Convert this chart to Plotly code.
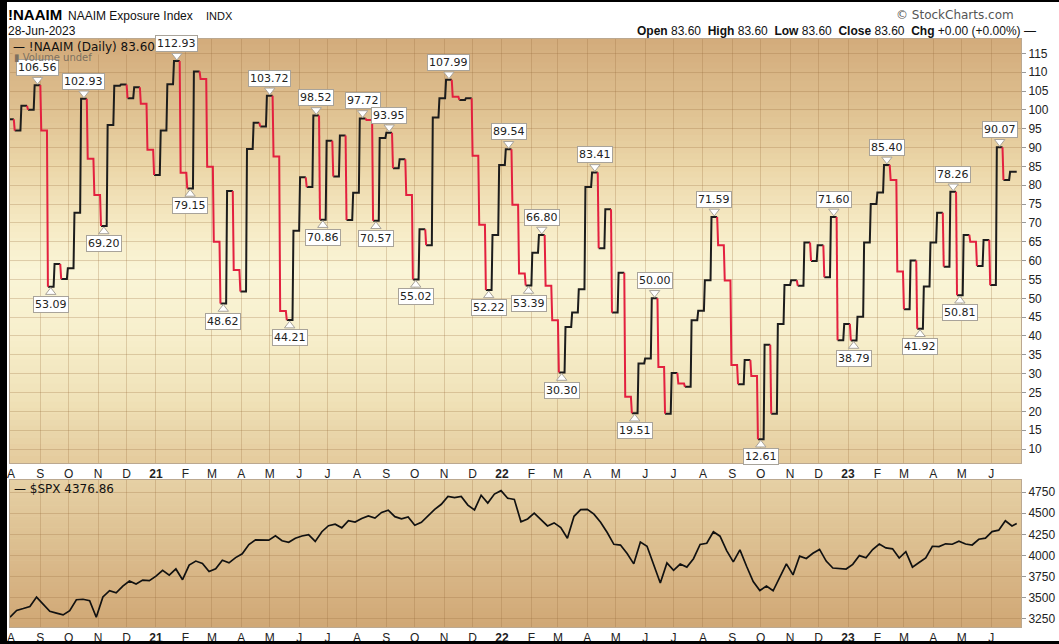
import plotly.graph_objects as go
import pandas as pd

# ---------------- data ----------------
naaim_start = "2020-07-29"
naaim_values = [
    97.5, 94.5, 101.1, 100.0, 106.56, 94.5, 53.09, 59.1, 55.1, 58.0, 72.7, 102.93,
    87.0, 77.4, 69.20, 96.0, 106.4, 106.7, 103.1, 106.0, 101.6, 89.4, 82.7,
    # 2021
    94.5, 106.8, 112.93, 83.3, 79.15, 110.2, 108.2, 84.9, 65.0, 48.62, 78.5, 57.5,
    51.8, 89.6, 96.6, 95.6, 103.72, 87.6, 46.6, 44.21, 67.9, 82.1, 79.5, 98.52,
    70.86, 91.8, 82.3, 93.2, 70.8, 78.0, 97.72, 97.3, 70.57, 92.5, 93.95, 84.5,
    86.9, 77.4, 55.02, 68.3, 64.1, 98.0, 103.1, 107.99, 103.5, 102.6, 103.1, 87.8,
    69.5, 52.22, 66.8, 85.4,
    # 2022
    89.54, 74.8, 56.6, 53.39, 62.1, 66.80, 53.3, 44.2, 30.30, 42.4, 46.2, 52.4,
    79.5, 83.41, 63.3, 73.6, 46.2, 56.8, 23.9, 19.51, 32.7, 34.0, 50.00, 31.8,
    19.4, 30.2, 27.4, 26.5, 44.2, 46.7, 54.8, 71.59, 64.1, 54.7, 32.3, 27.2,
    33.6, 29.4, 12.61, 37.7, 19.4, 43.2, 53.5, 54.8, 53.3, 64.8, 59.9, 64.1,
    55.6, 71.60, 38.9, 43.2,
    # 2023
    38.79, 45.1, 64.8, 75.0, 78.1, 85.40, 81.4, 57.1, 47.1, 60.0, 41.92, 53.1,
    64.8, 72.7, 58.4, 78.26, 50.81, 66.8, 65.0, 58.6, 65.5, 53.5, 90.07, 81.4,
    83.60, 83.60,
]
label_values = [106.56, 53.09, 102.93, 69.20, 112.93, 79.15, 48.62, 103.72, 44.21,
                98.52, 70.86, 97.72, 70.57, 93.95, 55.02, 107.99, 52.22, 89.54,
                53.39, 66.80, 30.30, 83.41, 19.51, 50.00, 71.59, 12.61, 71.60,
                38.79, 85.40, 41.92, 78.26, 50.81, 90.07]

spx_values = [
    3271, 3351, 3373, 3397, 3508, 3427, 3341, 3319, 3298, 3348, 3477, 3483, 3465,
    3270, 3510, 3585, 3558, 3638, 3699, 3663, 3709, 3703,
    # 2021
    3756, 3825, 3768, 3841, 3714, 3887, 3934, 3907, 3811, 3842, 3943, 3913, 3975,
    4020, 4129, 4185, 4180, 4181, 4233, 4174, 4156, 4204, 4230, 4247, 4166, 4281,
    4352, 4370, 4327, 4412, 4395, 4437, 4468, 4442, 4509, 4535, 4459, 4433, 4455,
    4357, 4391, 4471, 4545, 4605, 4697, 4683, 4698, 4595, 4538, 4712, 4620, 4726,
    4766,
    # 2022
    4677, 4663, 4398, 4432, 4501, 4419, 4349, 4385, 4329, 4204, 4463, 4543, 4546,
    4488, 4393, 4272, 4132, 4123, 4024, 3901, 4158, 4109, 3901, 3675, 3912, 3825,
    3899, 3863, 3962, 4130, 4145, 4280, 4228, 4058, 3924, 4067, 3873, 3693, 3586,
    3640, 3583, 3752, 3901, 3771, 3993, 3965, 4026, 4072, 3934, 3852, 3845, 3840,
    # 2023
    3895, 3999, 3973, 4071, 4136, 4090, 4079, 3970, 4046, 3862, 3917, 3971, 4109,
    4105, 4138, 4133, 4169, 4136, 4124, 4192, 4205, 4282, 4299, 4410, 4348, 4376.86,
]
spx_dates = list(pd.date_range("2020-07-31", "2023-06-23", freq="W-FRI")) + [pd.Timestamp("2023-06-28")]

month_letters = ["J", "F", "M", "A", "M", "J", "J", "A", "S", "O", "N", "D"]
tick_dates = pd.date_range("2020-08-01", "2023-06-01", freq="MS")
tick_text = [f"<b>{d.strftime('%y')}</b>" if d.month == 1 else month_letters[d.month - 1]
             for d in tick_dates]

# ---------------- geometry ----------------
W, H = 1059, 644
L, R, T, B = 10, 38, 39, 17
PW, PH = W - L - R, H - T - B
TOP_RANGE = [6.3, 118.8]
BOT_RANGE = [3155, 4892]
X_RANGE = ["2020-07-31", "2023-07-02 12:00"]
top_dom = [(H - B - 463) / PH, 1.0]
bot_dom = [0.0, (H - B - 480) / PH]
top_px_per_unit = (463 - 39) / (TOP_RANGE[1] - TOP_RANGE[0])


def px(xp):
    return (xp - L) / PW


def py(yp):
    return (H - B - yp) / PH


def hex2rgb(h):
    h = h.lstrip("#")
    return tuple(int(h[i:i + 2], 16) for i in (0, 2, 4))


def interp(stops, t):
    for (t0, c0), (t1, c1) in zip(stops[:-1], stops[1:]):
        if t0 <= t <= t1:
            f = (t - t0) / (t1 - t0) if t1 > t0 else 0
            a, b = hex2rgb(c0), hex2rgb(c1)
            return "rgb(%d,%d,%d)" % tuple(round(a[k] + (b[k] - a[k]) * f) for k in range(3))
    return stops[-1][1]


# ---------------- NAAIM step path ----------------
n = len(naaim_values)
d = pd.date_range(naaim_start, periods=n, freq="7D")
v = naaim_values
one_day = pd.Timedelta(days=1)
pts = [(d[0], v[0])]
cols = []
for i in range(n - 1):
    down_prev = i > 0 and v[i] < v[i - 1]
    down_next = v[i + 1] < v[i]
    pts.append((d[i + 1] - one_day, v[i]))
    cols.append("red" if (down_prev and down_next) else "black")
    pts.append((d[i + 1], v[i + 1]))
    cols.append("red" if down_next else "black")

paths = {"black": ([], []), "red": ([], [])}
k = 0
while k < len(cols):
    c = cols[k]
    xs, ys = paths[c]
    xs.append(pts[k][0]); ys.append(pts[k][1])
    while k < len(cols) and cols[k] == c:
        xs.append(pts[k + 1][0]); ys.append(pts[k + 1][1])
        k += 1
    xs.append(None); ys.append(None)

fig = go.Figure()
line_colors = {"black": "#1c1c1c", "red": "#E3203F"}
for c in ["black", "red"]:
    fig.add_trace(go.Scatter(x=paths[c][0], y=paths[c][1], mode="lines",
                             line=dict(color=line_colors[c], width=2),
                             xaxis="x", yaxis="y", hoverinfo="skip", showlegend=False))

# pointers + labels (labels are chronological: search forward)
tri_x, tri_y, tri_sym = [], [], []
annotations = []
start = 0
for lv in label_values:
    i = next(j for j in range(start, n) if abs(v[j] - lv) < 1e-9)
    start = i + 1
    peak = i > 0 and v[i] > v[i - 1]
    xc = d[i] + pd.Timedelta(days=3)
    off = 5.5 / top_px_per_unit
    tri_x.append(xc)
    tri_y.append(v[i] + off if peak else v[i] - off)
    tri_sym.append("triangle-down" if peak else "triangle-up")
    annotations.append(dict(
        x=xc, y=v[i], xref="x", yref="y", text=f"{lv:.2f}", showarrow=False,
        yanchor="bottom" if peak else "top", yshift=9 if peak else -9,
        font=dict(family="DejaVu Sans", size=11, color="#222"),
        bgcolor="white", bordercolor="#A8A39A", borderwidth=1, borderpad=1))

fig.add_trace(go.Scatter(x=tri_x, y=tri_y, mode="markers",
                         marker=dict(symbol=tri_sym, size=9, color="white",
                                     line=dict(color="#A8A39A", width=1)),
                         xaxis="x", yaxis="y", hoverinfo="skip", showlegend=False))

# SPX
fig.add_trace(go.Scatter(x=spx_dates, y=spx_values, mode="lines",
                         line=dict(color="#111", width=1.7), xaxis="x2", yaxis="y2",
                         hoverinfo="skip", showlegend=False))

# ---------------- backgrounds ----------------
top_stops = [(0.0, "#D3AB7B"), (0.15, "#DDBE8E"), (0.3, "#EBD6A8"), (0.45, "#F6EBC6"),
             (0.55, "#FAF5D7"), (0.7, "#F7EFCC"), (0.85, "#F0E2B8"), (1.0, "#E4CB9D")]
bot_stops = [(0.0, "#E6D1A5"), (1.0, "#D0A775")]
shapes = []
NS = 70
for s in range(NS):
    t = (s + 0.5) / NS
    shapes.append(dict(type="rect", xref="x domain", yref="y domain", x0=0, x1=1,
                       y0=1 - (s + 1) / NS, y1=1 - s / NS + 0.002, layer="below",
                       fillcolor=interp(top_stops, t), line=dict(width=0)))
for s in range(40):
    t = (s + 0.5) / 40
    shapes.append(dict(type="rect", xref="x2 domain", yref="y2 domain", x0=0, x1=1,
                       y0=1 - (s + 1) / 40, y1=1 - s / 40 + 0.004, layer="below",
                       fillcolor=interp(bot_stops, t), line=dict(width=0)))
# black frame
for x0, x1, y0, y1 in [(0, 7, 0, 644), (0, 1059, 0, 2), (0, 1059, 641, 644)]:
    shapes.append(dict(type="rect", xref="paper", yref="paper", x0=px(x0), x1=px(x1),
                       y0=py(y1), y1=py(y0), fillcolor="black", line=dict(width=0),
                       layer="above"))

# ---------------- header text ----------------
AR = "Liberation Sans, Arial, sans-serif"
hdr = [
    (6, 15, "left", "<b>!NAAIM</b>", 15, "#000", AR),
    (66, 16, "left", "NAAIM Exposure Index", 12, "#111", AR),
    (204, 16, "left", "INDX", 11, "#111", AR),
    (6, 31, "left", "28-Jun-2023", 12, "#111", AR),
    (1016, 15, "right", "© StockCharts.com", 12, "#555", "DejaVu Sans"),
    (1038, 31, "right",
     "<b>Open</b> 83.60  <b>High</b> 83.60  <b>Low</b> 83.60  <b>Close</b> 83.60  <b>Chg</b> +0.00 (+0.00%) —",
     12, "#111", AR),
]
for xp, yp, anc, txt, sz, col, fam in hdr:
    annotations.append(dict(x=px(xp), y=py(yp), xref="paper", yref="paper", text=txt,
                            showarrow=False, xanchor=anc, yanchor="middle",
                            font=dict(family=fam, size=sz, color=col)))

annotations.append(dict(x=px(12), y=py(47), xref="paper", yref="paper",
                        text="— !NAAIM (Daily) 83.60", showarrow=False, xanchor="left",
                        yanchor="middle", bgcolor="#D4AD7D", borderpad=0,
                        font=dict(family="DejaVu Sans", size=12, color="#111")))
annotations.append(dict(x=px(12), y=py(58), xref="paper", yref="paper",
                        text="▮ Volume undef", showarrow=False, xanchor="left",
                        yanchor="middle",
                        font=dict(family="DejaVu Sans", size=10, color="#7d705f")))
annotations.append(dict(x=px(12), y=py(489), xref="paper", yref="paper",
                        text="— $SPX 4376.86", showarrow=False, xanchor="left",
                        yanchor="middle",
                        font=dict(family="DejaVu Sans", size=12, color="#111")))

GRID = "rgba(150,108,58,0.27)"
FRAME = "#BBA890"
xcommon = dict(type="date", range=X_RANGE, tickmode="array", tickvals=list(tick_dates),
               ticktext=tick_text, showgrid=True, gridcolor=GRID, gridwidth=1,
               showline=True, linecolor=FRAME, mirror=True, ticks="",
               tickfont=dict(family=AR, size=12, color="#222"), zeroline=False,
               automargin=False)
ycommon = dict(side="right", showgrid=True, gridcolor=GRID, gridwidth=1, showline=True,
               linecolor=FRAME, mirror=True, ticks="outside", ticklen=4, tickcolor="#999",
               tickfont=dict(family=AR, size=12, color="#222"), zeroline=False,
               automargin=False)

fig.update_layout(
    width=W, height=H, margin=dict(l=L, r=R, t=T, b=B, pad=0, autoexpand=False),
    paper_bgcolor="white", plot_bgcolor="#F3E6BE", showlegend=False,
    xaxis=dict(**xcommon, anchor="y"),
    yaxis=dict(**ycommon, domain=top_dom, range=TOP_RANGE, tickvals=list(range(10, 116, 5)),
               anchor="x"),
    xaxis2=dict(**xcommon, anchor="y2", matches="x"),
    yaxis2=dict(**ycommon, domain=bot_dom, range=BOT_RANGE,
                tickvals=list(range(3250, 4751, 250)), anchor="x2"),
    shapes=shapes, annotations=annotations,
)

fig.write_html("out.html", config={"displayModeBar": False},
               post_script="document.body.style.margin='0';document.body.style.padding='0';")
